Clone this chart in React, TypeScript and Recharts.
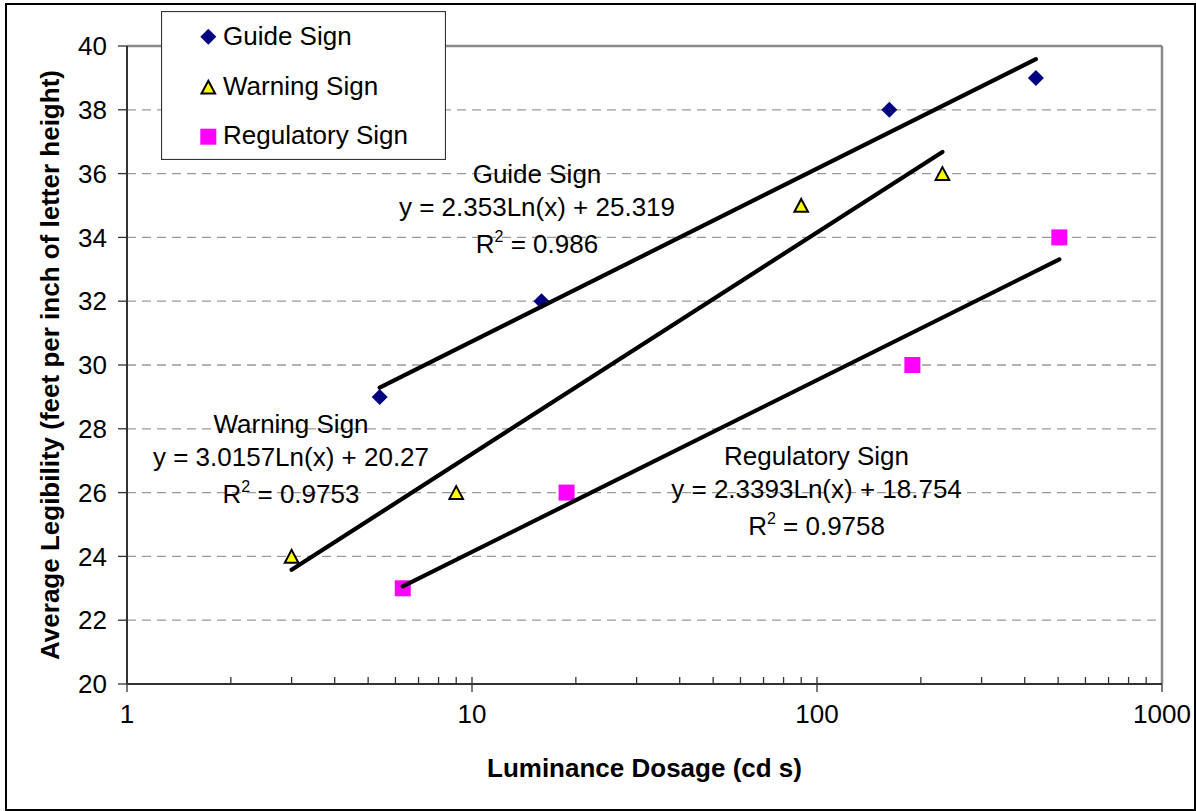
import React from 'react';
import {
  ScatterChart,
  Scatter,
  XAxis,
  YAxis,
  CartesianGrid,
  ReferenceLine,
  Legend,
} from 'recharts';

// ---------- data ----------
const guideX = [5.4, 15.9, 162, 431];
const guideY = [29, 32, 38, 39];
const warningX = [3, 9, 90, 231];
const warningY = [24, 26, 35, 36];
const regulatoryX = [6.3, 18.8, 189, 504];
const regulatoryY = [23, 26, 30, 34];

// trendline end points (logarithmic fits are straight on a log x axis)
const guideTrendX = [5.4, 431];
const guideTrendY = [29.29, 39.59];
const warningTrendX = [3, 231];
const warningTrendY = [23.58, 36.68];
const regulatoryTrendX = [6.3, 504];
const regulatoryTrendY = [23.06, 33.31];

const xTicks = [1, 10, 100, 1000];
const xMinorTicks = [
  2, 3, 4, 5, 6, 7, 8, 9, 10, 20, 30, 40, 50, 60, 70, 80, 90, 100, 200, 300, 400, 500, 600, 700, 800,
  900,
];
const yTicks = [20, 22, 24, 26, 28, 30, 32, 34, 36, 38, 40];

const seriesNames = ['Guide Sign', 'Warning Sign', 'Regulatory Sign'];
const equations = ['y = 2.353Ln(x) + 25.319', 'y = 3.0157Ln(x) + 20.27', 'y = 2.3393Ln(x) + 18.754'];
const rSquared = ['0.986', '0.9753', '0.9758'];
const labelAnchorX = [15.43, 2.988, 99.7];
const labelAnchorY = [35.71, 27.88, 26.87];

const xTitle = 'Luminance Dosage (cd s)';
const yTitle = 'Average Legibility (feet per inch of letter height)';

// ---------- build tables ----------
const zip = (xs: number[], ys: number[]) => xs.map((x, i) => ({ x, y: ys[i] }));
const guideData = zip(guideX, guideY);
const warningData = zip(warningX, warningY);
const regulatoryData = zip(regulatoryX, regulatoryY);
const guideTrend = zip(guideTrendX, guideTrendY);
const warningTrend = zip(warningTrendX, warningTrendY);
const regulatoryTrend = zip(regulatoryTrendX, regulatoryTrendY);
const labelData = seriesNames.map((name, i) => ({
  x: labelAnchorX[i],
  y: labelAnchorY[i],
  name,
  eq: equations[i],
  r2: rSquared[i],
}));

const FONT = '"Liberation Sans", Arial, Helvetica, sans-serif';
const FS = 26;

// ---------- marker shapes ----------
const Diamond = ({ cx, cy }: any) => (
  <polygon
    points={`${cx},${cy - 8} ${cx + 8},${cy} ${cx},${cy + 8} ${cx - 8},${cy}`}
    fill="#000080"
  />
);
const Triangle = ({ cx, cy }: any) => (
  <polygon
    points={`${cx},${cy - 6.5} ${cx + 6.8},${cy + 6.3} ${cx - 6.8},${cy + 6.3}`}
    fill="#FFFF00"
    stroke="#000"
    strokeWidth={2}
    strokeLinejoin="miter"
  />
);
const Square = ({ cx, cy }: any) => (
  <rect x={cx - 8} y={cy - 8} width={16} height={16} fill="#FF00FF" />
);
const NoShape = () => <g />;

const TrendLabel = (props: any) => {
  const { cx, cy, payload } = props;
  if (cx == null || cy == null || !payload) return <g />;
  const common = {
    textAnchor: 'middle' as const,
    fontFamily: FONT,
    fontSize: FS,
    fill: '#000',
  };
  return (
    <g>
      <text x={cx} y={cy} {...common}>
        {payload.name}
      </text>
      <text x={cx} y={cy + 33.3} {...common}>
        {payload.eq}
      </text>
      <text x={cx} y={cy + 70.5} {...common}>
        R
        <tspan dy={-11} fontSize={16}>
          2
        </tspan>
        <tspan dy={11}>{` = ${payload.r2}`}</tspan>
      </text>
    </g>
  );
};

const LegendBox = () => {
  const txt = { fontFamily: FONT, fontSize: FS, fill: '#000' };
  return (
    <svg width={285} height={149} style={{ display: 'block' }}>
      <rect x={0.5} y={0.5} width={284} height={148} fill="#fff" stroke="#333" strokeWidth={1.2} />
      <Diamond cx={47.3} cy={25.7} />
      <text x={62} y={34} {...txt}>
        {seriesNames[0]}
      </text>
      <Triangle cx={47.3} cy={76.3} />
      <text x={62} y={84} {...txt}>
        {seriesNames[1]}
      </text>
      <Square cx={47.3} cy={125.7} />
      <text x={62} y={133.3} {...txt}>
        {seriesNames[2]}
      </text>
    </svg>
  );
};

const XTitle = (props: any) => {
  const vb = props.viewBox || { x: 127, y: 684, width: 1035, height: 127 };
  return (
    <text
      x={vb.x + vb.width / 2}
      y={vb.y + 93}
      textAnchor="middle"
      fontFamily={FONT}
      fontSize={FS}
      fontWeight="bold"
      fill="#000"
    >
      {xTitle}
    </text>
  );
};

const YTitle = (props: any) => {
  const vb = props.viewBox || { x: 0, y: 46, width: 127, height: 638 };
  const x = vb.x + 59;
  const y = vb.y + vb.height / 2;
  return (
    <text
      x={x}
      y={y}
      transform={`rotate(-90, ${x}, ${y})`}
      textAnchor="middle"
      fontFamily={FONT}
      fontSize={FS}
      fontWeight="bold"
      fill="#000"
    >
      {yTitle}
    </text>
  );
};

export default function App() {
  const tickStyle = { fill: '#000', fontSize: FS, fontFamily: FONT };
  return (
    <div
      style={{
        position: 'absolute',
        left: 0,
        top: 0,
        width: 1196,
        height: 811,
        background: '#fff',
        overflow: 'hidden',
      }}
    >
      <ScatterChart
        width={1196}
        height={811}
        margin={{ top: 46, right: 34, bottom: 0, left: 0 }}
      >
        <CartesianGrid
          vertical={false}
          stroke="#9a9a9a"
          strokeWidth={1.3}
          strokeDasharray="9 6"
        />
        <XAxis
          dataKey="x"
          type="number"
          scale="log"
          domain={[1, 1000]}
          ticks={xTicks}
          allowDataOverflow
          interval={0}
          height={127}
          tickSize={8}
          tickMargin={13}
          tick={tickStyle}
          tickLine={{ stroke: '#333', strokeWidth: 1.3 }}
          axisLine={{ stroke: '#333', strokeWidth: 2 }}
          label={{ content: (p: any) => <XTitle {...p} /> }}
        />
        <XAxis
          xAxisId="minor"
          dataKey="x"
          type="number"
          scale="log"
          domain={[1, 1000]}
          ticks={xMinorTicks}
          allowDataOverflow
          interval={0}
          mirror
          tickSize={7}
          axisLine={false}
          tickFormatter={() => ''}
          tickLine={{ stroke: '#333', strokeWidth: 1.3 }}
        />
        <YAxis
          dataKey="y"
          type="number"
          domain={[20, 40]}
          ticks={yTicks}
          allowDataOverflow
          interval={0}
          width={127}
          tickSize={9}
          tickMargin={11}
          tick={tickStyle}
          tickLine={{ stroke: '#333', strokeWidth: 1.3 }}
          axisLine={{ stroke: '#333', strokeWidth: 2 }}
          label={{ content: (p: any) => <YTitle {...p} /> }}
        />
        <ReferenceLine y={40} stroke="#8a8a8a" strokeWidth={2.5} />
        <ReferenceLine x={1000} stroke="#8a8a8a" strokeWidth={2.5} />

        <Scatter
          name="labels"
          data={labelData}
          shape={TrendLabel}
          isAnimationActive={false}
          legendType="none"
        />
        <Scatter
          name={seriesNames[0]}
          data={guideData}
          shape={Diamond}
          fill="#000080"
          isAnimationActive={false}
        />
        <Scatter
          name={seriesNames[1]}
          data={warningData}
          shape={Triangle}
          fill="#FFFF00"
          isAnimationActive={false}
        />
        <Scatter
          name={seriesNames[2]}
          data={regulatoryData}
          shape={Square}
          fill="#FF00FF"
          isAnimationActive={false}
        />
        {[guideTrend, warningTrend, regulatoryTrend].map((d, i) => (
          <Scatter
            key={`trend-${i}`}
            name={`trend-${i}`}
            data={d}
            shape={NoShape}
            fill="none"
            line={{ stroke: '#000', strokeWidth: 4.2, strokeLinecap: 'round', fill: 'none' }}
            legendType="none"
            isAnimationActive={false}
          />
        ))}
        <Legend
          layout="vertical"
          align="center"
          verticalAlign="middle"
          content={() => <LegendBox />}
          wrapperStyle={{ left: 161, top: 11, width: 285, height: 149 }}
        />
      </ScatterChart>
      <div
        style={{
          position: 'absolute',
          left: 5,
          top: 3,
          width: 1191,
          height: 808,
          border: '2.5px solid #000',
          boxSizing: 'border-box',
          pointerEvents: 'none',
        }}
      />
    </div>
  );
}
